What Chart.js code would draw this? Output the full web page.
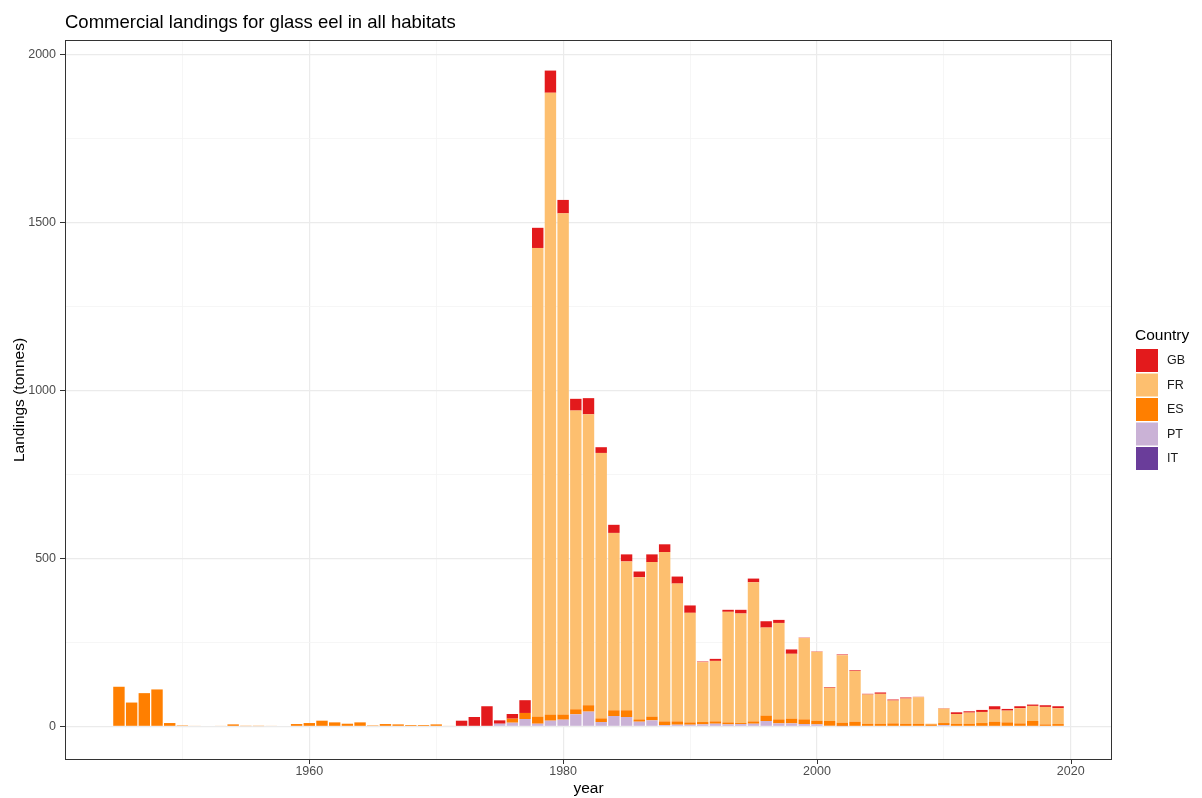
<!DOCTYPE html>
<html>
<head>
<meta charset="utf-8">
<title>Commercial landings for glass eel in all habitats</title>
<script src="https://cdn.jsdelivr.net/npm/chart.js@4.4.0/dist/chart.umd.min.js"></script>
<style>
  html, body { margin: 0; padding: 0; background: #fff; }
  #chart { display: block; }
</style>
</head>
<body>
<canvas id="chart" width="1202" height="798"></canvas>
<script>
// landings per year and country, tonnes
const years = [
  1945, 1946, 1947, 1948, 1949, 1950, 1951, 1952, 1953, 1954,
  1955, 1956, 1957, 1958, 1959, 1960, 1961, 1962, 1963, 1964,
  1965, 1966, 1967, 1968, 1969, 1970, 1971, 1972, 1973, 1974,
  1975, 1976, 1977, 1978, 1979, 1980, 1981, 1982, 1983, 1984,
  1985, 1986, 1987, 1988, 1989, 1990, 1991, 1992, 1993, 1994,
  1995, 1996, 1997, 1998, 1999, 2000, 2001, 2002, 2003, 2004,
  2005, 2006, 2007, 2008, 2009, 2010, 2011, 2012, 2013, 2014,
  2015, 2016, 2017, 2018, 2019
];
const gb = [
  0, 0, 0, 0, 0, 0, 0, 0, 0, 0,
  0, 0, 0, 0, 0, 0, 0, 0, 0, 0,
  0, 0, 0, 0, 0, 0, 0, 17, 28, 60,
  10, 14, 38, 60, 66, 40, 35, 48, 17, 24,
  21, 17, 23, 23, 21, 22, 2, 6, 6, 11,
  11, 19, 9, 13, 1, 1, 2, 2, 2, 2,
  4, 3, 3, 1, 0, 1, 5, 4, 6, 10,
  5, 6, 4, 5, 6
];
const fr = [
  0, 0, 0, 0, 0, 0, 0, 0, 0, 0,
  0, 0, 0, 0, 0, 0, 0, 0, 0, 0,
  0, 0, 0, 0, 0, 0, 0, 0, 0, 0,
  0, 0, 0, 1395, 1851, 1492, 889, 866, 790, 528,
  443, 423, 460, 504, 410, 326, 178, 180, 329, 326,
  414, 262, 287, 193, 242, 205, 99, 201, 151, 87,
  89, 68, 75, 79, 2, 43, 29, 33, 33, 36,
  35, 45, 45, 52, 47
];
const es = [
  118, 71, 99, 110, 10, 3, 2, 0, 2, 6,
  1, 1, 2, 0, 7, 10, 17, 12, 8, 12,
  3, 7, 6, 4, 4, 6, 2, 0, 0, 0,
  0, 12, 18, 21, 18, 15, 15, 19, 11, 17,
  20, 7, 11, 11, 10, 7, 7, 7, 6, 3,
  7, 16, 12, 14, 14, 11, 14, 10, 14, 8,
  8, 9, 8, 8, 6, 6, 8, 8, 10, 14,
  12, 9, 16, 6, 7
];
const pt = [
  0, 0, 0, 0, 0, 0, 0, 0, 0, 0,
  0, 0, 0, 0, 0, 0, 0, 0, 0, 0,
  0, 0, 0, 0, 0, 0, 0, 0, 0, 0,
  8, 11, 22, 8, 17, 20, 36, 44, 13, 31,
  28, 14, 18, 4, 5, 5, 6, 8, 6, 7,
  8, 16, 9, 9, 7, 6, 2, 1, 0, 0,
  0, 0, 0, 0, 0, 4, 0, 0, 0, 0,
  0, 0, 0, 0, 0
];
const it = [
  0, 0, 0, 0, 0, 0, 0, 0, 0, 0,
  0, 0, 0, 0, 0, 0, 0, 0, 0, 0,
  0, 0, 0, 0, 0, 0, 0, 0, 0, 0,
  0, 0, 0, 0, 0, 0, 0, 0, 0, 0,
  0, 0, 0, 0, 0, 0, 0, 0, 0, 0,
  0, 0, 0, 0, 0, 0, 0, 0, 0, 0,
  0, 0, 0, 0, 0, 0, 0, 0, 0, 0,
  0, 0, 0, 0, 0
];
const xTicks = [1950, 1960, 1970, 1980, 1990, 2000, 2010, 2020];
const yTicks = [0, 250, 500, 750, 1000, 1250, 1500, 1750, 2000];

const chartTitle = 'Commercial landings for glass eel in all habitats';
const legendTitle = 'Country';
const FONT = "'Liberation Sans', Arial, sans-serif";

const isMajorX = v => v % 20 === 0;
const isMajorY = v => v % 500 === 0;

// ggplot stacks the first level on top, so datasets go bottom -> top
function series(label, values, color) {
  return {
    label: label,
    data: years.map((y, i) => ({ x: y, y: values[i] || null })),
    backgroundColor: color,
    borderWidth: 0,
    barPercentage: 0.9,
    categoryPercentage: 1.0
  };
}

const datasets = [
  series('IT', it, '#6A3D9A'),
  series('PT', pt, '#CAB2D6'),
  series('ES', es, '#FF7F00'),
  series('FR', fr, '#FDBF6F'),
  series('GB', gb, '#E31A1C')
];

// panel border, tick marks, title and legend drawn like the ggplot version
const decorations = {
  id: 'decorations',
  afterDraw(chart) {
    const ctx = chart.ctx;
    const a = chart.chartArea;
    const xs = chart.scales.x;
    const ys = chart.scales.y;
    ctx.save();
    ctx.strokeStyle = '#333333';
    ctx.lineWidth = 1;
    ctx.strokeRect(a.left + 0.5, a.top + 0.5, a.right - a.left - 1, a.bottom - a.top - 1);

    ctx.beginPath();
    yTicks.filter(isMajorY).forEach(v => {
      const py = Math.round(ys.getPixelForValue(v)) + 0.5;
      ctx.moveTo(a.left - 5, py);
      ctx.lineTo(a.left, py);
    });
    xTicks.filter(isMajorX).forEach(v => {
      const px = Math.round(xs.getPixelForValue(v)) + 0.5;
      ctx.moveTo(px, a.bottom);
      ctx.lineTo(px, a.bottom + 4);
    });
    ctx.stroke();

    ctx.fillStyle = '#000000';
    ctx.textBaseline = 'middle';
    ctx.textAlign = 'left';
    ctx.font = '18.5px ' + FONT;
    ctx.fillText(chartTitle, a.left, 23);

    const lx = a.right + 24;
    const mid = (a.top + a.bottom) / 2;
    ctx.font = '15.5px ' + FONT;
    ctx.fillText(legendTitle, lx - 1, mid - 64);
    const items = chart.data.datasets.slice().reverse();
    ctx.font = '12.5px ' + FONT;
    items.forEach((d, i) => {
      const top = mid - 51 + i * 24.5;
      ctx.fillStyle = d.backgroundColor;
      ctx.fillRect(lx, top, 22, 23);
      ctx.fillStyle = '#1a1a1a';
      ctx.fillText(d.label, lx + 31, top + 12);
    });
    ctx.restore();
  }
};

new Chart(document.getElementById('chart'), {
  type: 'bar',
  data: { datasets: datasets },
  plugins: [decorations],
  options: {
    responsive: false,
    animation: false,
    devicePixelRatio: 1,
    layout: { padding: { top: 40, right: 90, left: 0, bottom: 0 } },
    plugins: {
      legend: { display: false },
      title: { display: false },
      tooltip: { enabled: false }
    },
    scales: {
      x: {
        type: 'linear',
        stacked: true,
        offset: false,
        min: 1940.75,
        max: 2023.25,
        afterBuildTicks: axis => { axis.ticks = xTicks.map(v => ({ value: v })); },
        afterFit: axis => { axis.height = 38; },
        border: { display: false },
        grid: {
          offset: false,
          color: c => c.tick && isMajorX(c.tick.value) ? '#EBEBEB' : '#F4F4F4',
          lineWidth: c => c.tick && isMajorX(c.tick.value) ? 1.2 : 0.8,
          tickColor: 'rgba(0,0,0,0)',
          tickLength: 4
        },
        ticks: {
          autoSkip: false,
          maxRotation: 0,
          padding: 0,
          color: '#4D4D4D',
          font: { family: FONT, size: 12.5 },
          callback: v => isMajorX(v) ? String(v) : ''
        },
        title: {
          display: true,
          text: 'year',
          color: '#000000',
          font: { family: FONT, size: 15.5 },
          padding: { top: 0, bottom: 0 }
        }
      },
      y: {
        stacked: true,
        min: -100,
        max: 2043,
        afterBuildTicks: axis => { axis.ticks = yTicks.map(v => ({ value: v })); },
        afterFit: axis => { axis.width = 65; },
        border: { display: false },
        grid: {
          color: c => c.tick && isMajorY(c.tick.value) ? '#EBEBEB' : '#F4F4F4',
          lineWidth: c => c.tick && isMajorY(c.tick.value) ? 1.2 : 0.8,
          tickColor: 'rgba(0,0,0,0)',
          tickLength: 5
        },
        ticks: {
          autoSkip: false,
          padding: 4,
          color: '#4D4D4D',
          font: { family: FONT, size: 12.5 },
          callback: v => isMajorY(v) ? String(v) : ''
        },
        title: {
          display: true,
          text: 'Landings (tonnes)',
          color: '#000000',
          font: { family: FONT, size: 15.5 },
          padding: { top: 10, bottom: 0 }
        }
      }
    }
  }
});
</script>
</body>
</html>
